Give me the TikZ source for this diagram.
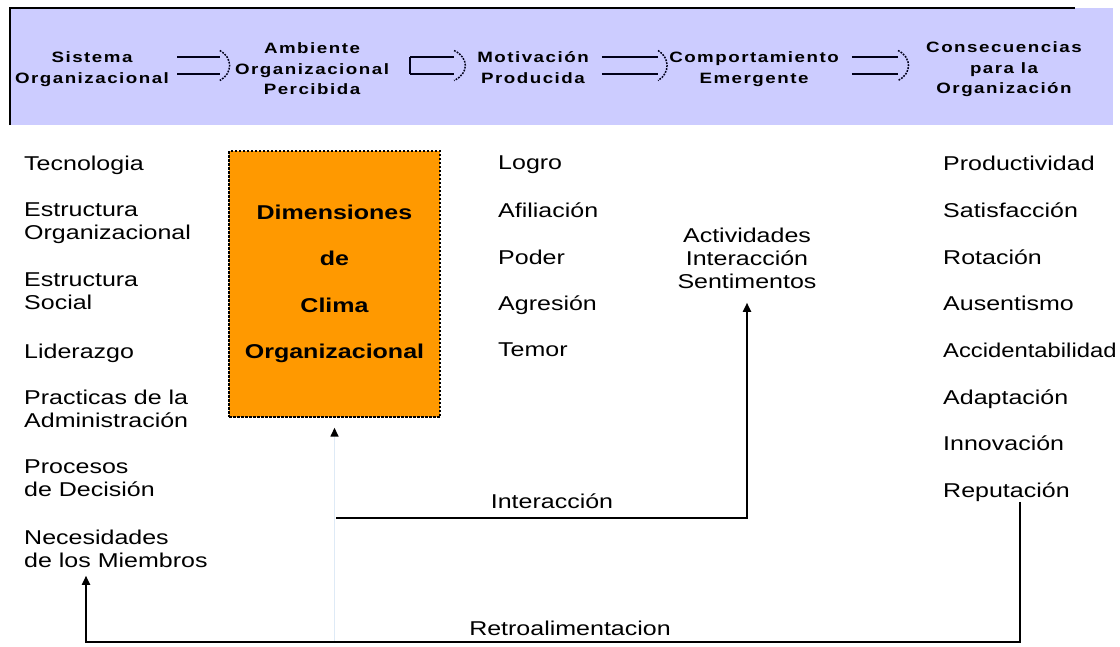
\documentclass[tikz,border=0pt]{standalone}
\usepackage{fontspec}
\setmainfont{Liberation Sans}[FakeStretch=1.25]
\newfontfamily\bannerfont{Liberation Sans}[FakeStretch=1.25,LetterSpace=10]
\usetikzlibrary{arrows.meta,calc}
\definecolor{bannerbg}{RGB}{204,204,255}
\definecolor{orangebox}{RGB}{255,153,0}
\definecolor{faintline}{RGB}{222,234,246}
\tikzset{
  txt/.style={anchor=north west, align=left, inner sep=0pt, font=\fontsize{20}{23}\selectfont},
  ctr/.style={anchor=north, align=center, inner sep=0pt, font=\fontsize{20}{23}\selectfont},
  bhead/.style={anchor=north, align=center, inner sep=0pt, font=\bannerfont\bfseries\fontsize{15}{20.5}\selectfont},
  bline/.style={line width=1.6pt, draw=black!90!blue},
  bdots/.style={line width=1.5pt, draw=black!90!blue, dash pattern=on 1.8pt off 1.2pt},
  tri/.style={-{Triangle[width=8pt,length=9pt]}},
  conn/.style={line width=1.8pt},
  climabox/.style={draw=black, line width=1.4pt, dash pattern=on 2.5pt off 1.5pt, fill=orangebox,
    minimum width=211pt, minimum height=266pt, align=center, inner sep=0pt,
    font=\bfseries\fontsize{20}{46.5}\selectfont},
}
\newcommand\bannerarrow[3]{%
  \draw[bline] ($(#1)+(0,-8.3)$) -- ($(#2)+(0,-8.3)$);
  \draw[bline] ($(#1)+(0,8.3)$) -- ($(#2)+(0,8.3)$);
  \draw[bdots] ($(#2)+(0,-15)$) .. controls ($(#2)+(#3,-8)$) and ($(#2)+(#3,8)$) .. ($(#2)+(0,15)$);
}
\begin{document}
\begin{tikzpicture}[x=1pt,y=-1pt]
\useasboundingbox (0,0) rectangle (1120,646);
% banner
\fill[bannerbg] (10,8) rectangle (1113,125);
\draw[line width=1.5pt] (10,125) -- (10,8) -- (1075,8);

\node[bhead] (sis) at (92,51.6) {Sistema\\Organizacional};
\node[bhead] (amb) at (312,42.6) {Ambiente\\Organizacional\\Percibida};
\node[bhead] (mot) at (533,51.6) {Motivación\\Producida};
\node[bhead] (com) at (754,51.6) {Comportamiento\\Emergente};
\node[bhead] (con) at (1004,41.6) {Consecuencias\\para la\\Organización};

\coordinate (ay) at (0,65.5);
\coordinate (a1s) at ([xshift=8pt]sis.east |- ay);
\coordinate (a1e) at ([xshift=-15pt]amb.west |- ay);
\coordinate (a2s) at ([xshift=21pt]amb.east |- ay);
\coordinate (a2e) at ([xshift=-23pt]mot.west |- ay);
\coordinate (a3s) at ([xshift=13pt]mot.east |- ay);
\coordinate (a3e) at ([xshift=-11pt]com.west |- ay);
\coordinate (a4s) at ([xshift=13pt]com.east |- ay);
\coordinate (a4e) at ([xshift=-28pt]con.west |- ay);

\bannerarrow{a1s}{a1e}{13}
\bannerarrow{a2s}{a2e}{15}
\draw[bline] ($(a2s)+(0,-8.3)$) -- ($(a2s)+(0,8.3)$);
\bannerarrow{a3s}{a3e}{12}
\bannerarrow{a4s}{a4e}{14}

% left column
\node[txt] (tec) at (24,155.7) {Tecnologia};
\node[txt] (eor) at (24,202.7) {Estructura\\Organizacional};
\node[txt] (eso) at (24,272.7) {Estructura\\Social};
\node[txt] (lid) at (24,343.7) {Liderazgo};
\node[txt] (pra) at (24,389.7) {Practicas de la\\Administración};
\node[txt] (pro) at (24,459.7) {Procesos\\de Decisión};
\node[txt] (nec) at (24,529.7) {Necesidades\\de los Miembros};

% climate box
\node[climabox] (dim) at (334.5,284) {Dimensiones\\de\\Clima\\Organizacional};

% motivation column
\node[txt] (log) at (498,155.7) {Logro};
\node[txt] (afi) at (498,202.7) {Afiliación};
\node[txt] (pod) at (498,249.7) {Poder};
\node[txt] (agr) at (498,295.7) {Agresión};
\node[txt] (tem) at (498,342.7) {Temor};

% behaviour
\node[ctr] (act) at (747,227.7) {Actividades\\Interacción\\Sentimentos};

% consequences column
\node[txt] (prd) at (943,155.7) {Productividad};
\node[txt] (sat) at (943,202.7) {Satisfacción};
\node[txt] (rot) at (943,249.7) {Rotación};
\node[txt] (aus) at (943,295.7) {Ausentismo};
\node[txt, font=\fontsize{20}{23}\selectfont\addfontfeature{FakeStretch=1.19}] (acc) at (943,342.7) {Accidentabilidad};
\node[txt] (ada) at (943,389.7) {Adaptación};
\node[txt] (inn) at (943,435.7) {Innovación};
\node[txt] (rep) at (943,482.7) {Reputación};

% connectors
\coordinate (r1) at (1020,642);
\coordinate (r2) at (86,642);
\coordinate (i0) at (336,518);
\coordinate (i1) at (747,518);

\draw[faintline, line width=1.5pt, -{Triangle[width=8pt,length=9pt,color=black]}, shorten >=10pt] (dim.south |- r1) -- (dim.south);
\draw[conn, tri, shorten >=14pt] (i0) -- (i1) -- (act.south -| i1);
\draw[conn, tri, shorten >=8pt] (rep.south -| r1) -- (r1) -- (r2) -- (nec.south -| r2);

\node[ctr, anchor=center] (lint) at (552,501) {Interacción};
\node[ctr, anchor=center] (lret) at (570,628) {Retroalimentacion};
\end{tikzpicture}
\end{document}
